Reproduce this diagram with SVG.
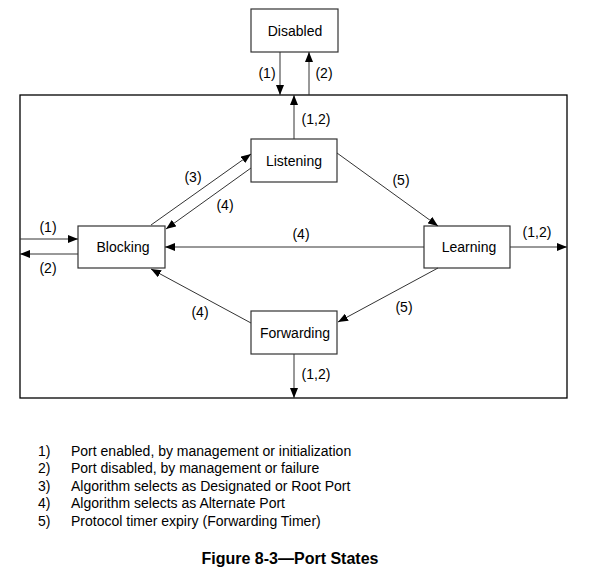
<svg xmlns="http://www.w3.org/2000/svg" width="590" height="571" viewBox="0 0 590 571">
<defs>
<marker id="ah" markerWidth="10" markerHeight="8" refX="10" refY="4" orient="auto" markerUnits="userSpaceOnUse"><path d="M0,0 L10,4 L0,8 Z" fill="#000"/></marker>
</defs>
<style>
.node rect{fill:#fff;stroke:#333;stroke-width:1.2}
.node text{font-family:"Liberation Sans",Arial,sans-serif;font-size:14px;fill:#000;text-anchor:middle}
.c line{stroke:#333;stroke-width:1;marker-end:url(#ah)}
.lbl{font-family:"Liberation Sans",Arial,sans-serif;font-size:14px;fill:#000;text-anchor:middle}
.leg{font-family:"Liberation Sans",Arial,sans-serif;font-size:14px;fill:#000}
</style>
<rect width="590" height="571" fill="#fff"/>
<rect id="frame" x="20" y="95" width="547" height="303" fill="none" stroke="#000" stroke-width="1.3"/>
<g id="Disabled" class="node"><rect x="251" y="9" width="87" height="43"/><text x="295" y="36">Disabled</text></g>
<g id="Listening" class="node"><rect x="251" y="139" width="86" height="43"/><text x="294" y="166">Listening</text></g>
<g id="Blocking" class="node"><rect x="78" y="226" width="87" height="42"/><text x="123" y="252">Blocking</text></g>
<g id="Learning" class="node"><rect x="424" y="226" width="86" height="42"/><text x="469" y="252">Learning</text></g>
<g id="Forwarding" class="node"><rect x="251" y="311" width="86" height="43"/><text x="295" y="338">Forwarding</text></g>
<g id="connectors" class="c">
<line x1="280" y1="52" x2="280" y2="95"/>
<line x1="309" y1="95" x2="309" y2="52"/>
<line x1="294" y1="139" x2="294" y2="95"/>
<line x1="20" y1="239" x2="78" y2="239"/>
<line x1="78" y1="254" x2="20" y2="254"/>
<line x1="151" y1="225" x2="251" y2="154"/>
<line x1="251" y1="168" x2="166" y2="229"/>
<line x1="337" y1="153" x2="438" y2="226"/>
<line x1="424" y1="247" x2="165" y2="247"/>
<line x1="510" y1="247" x2="567" y2="247"/>
<line x1="438" y1="268" x2="338" y2="322"/>
<line x1="251" y1="323" x2="151" y2="269"/>
<line x1="294" y1="354" x2="294" y2="398"/>
</g>
<g id="labels">
<text class="lbl" x="267" y="78">(1)</text>
<text class="lbl" x="324" y="78">(2)</text>
<text class="lbl" x="316" y="124">(1,2)</text>
<text class="lbl" x="48" y="232">(1)</text>
<text class="lbl" x="48" y="273">(2)</text>
<text class="lbl" x="193" y="182">(3)</text>
<text class="lbl" x="225" y="210">(4)</text>
<text class="lbl" x="401" y="185">(5)</text>
<text class="lbl" x="301" y="239">(4)</text>
<text class="lbl" x="537" y="237">(1,2)</text>
<text class="lbl" x="404" y="312">(5)</text>
<text class="lbl" x="200" y="317">(4)</text>
<text class="lbl" x="316" y="379">(1,2)</text>
</g>
<g id="legend" class="leg">
<text x="38" y="456">1)</text><text x="71" y="456">Port enabled, by management or initialization</text>
<text x="38" y="473">2)</text><text x="71" y="473">Port disabled, by management or failure</text>
<text x="38" y="491">3)</text><text x="71" y="491">Algorithm selects as Designated or Root Port</text>
<text x="38" y="508">4)</text><text x="71" y="508">Algorithm selects as Alternate Port</text>
<text x="38" y="526">5)</text><text x="71" y="526">Protocol timer expiry (Forwarding Timer)</text>
</g>
<text id="caption" x="290" y="564" text-anchor="middle" style="font-family:'Liberation Sans',Arial,sans-serif;font-size:16px;font-weight:bold">Figure 8-3—Port States</text>
</svg>
